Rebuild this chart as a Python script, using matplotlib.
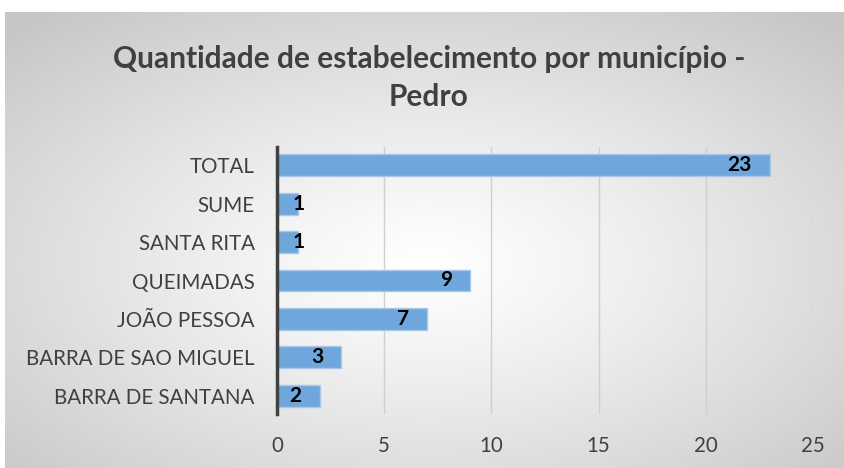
import numpy as np
import matplotlib
matplotlib.use("Agg")
import matplotlib.pyplot as plt

categories = ["BARRA DE SANTANA", "BARRA DE SAO MIGUEL", "JOÃO PESSOA",
              "QUEIMADAS", "SANTA RITA", "SUME", "TOTAL"]
values = [2, 3, 7, 9, 1, 1, 23]
xticks = [0, 5, 10, 15, 20, 25]
title = "Quantidade de estabelecimento por município -\nPedro"

plt.rcParams['font.family'] = ['Lato', 'DejaVu Sans']

fig = plt.figure(figsize=(8.45, 4.68), dpi=100)
fig.patch.set_facecolor("white")

# radial gradient background panel
bg = fig.add_axes([5/845, 0, 840/845, 1 - 12/468])
bg.set_axis_off()
ny, nx = 200, 360
yy, xx = np.mgrid[0:ny, 0:nx]
cx, cy = nx * 0.5, ny * 0.55
r = np.sqrt(((xx - cx) / (nx * 0.5)) ** 2 + ((yy - cy) / (ny * 0.5)) ** 2) / np.sqrt(2)
r = np.clip(r, 0, 1)
val = 1.0 - (1.0 - 0.78) * r ** 1.2
bg.imshow(np.dstack([val, val, val]), aspect='auto', extent=[0, 1, 0, 1], origin='upper')
bg.set_xlim(0, 1); bg.set_ylim(0, 1)

ax = fig.add_axes([277/845, 1 - 414/468, (813-277)/845, (414-147)/468])
ax.patch.set_alpha(0)
y = np.arange(len(categories))
ax.barh(y, values, height=0.57, color="#6fa6dc", edgecolor="#a8c8ea", linewidth=1, zorder=3)
ax.set_xlim(0, 25)
ax.set_ylim(-0.47, len(categories) - 1 + 0.47)
ax.set_xticks(xticks)
ax.set_yticks(y)
ax.set_yticklabels(categories)
ax.grid(axis='x', color="#cfcfcf", linewidth=1, zorder=0)
for s in ["top", "right", "bottom"]:
    ax.spines[s].set_visible(False)
ax.spines["left"].set_color("#404040")
ax.spines["left"].set_linewidth(2.5)
ax.spines["left"].set_zorder(4)
ax.tick_params(axis='both', length=0, labelsize=14.8, colors="#404040")
ax.tick_params(axis='x', pad=16)
ax.tick_params(axis='y', pad=16)

for yi, v in zip(y, values):
    if v >= 2:
        ax.annotate(str(v), (v, yi), xytext=(-13, 0), textcoords='offset points',
                    ha='right', va='center', fontsize=15, fontweight='bold',
                    color='black', zorder=5)
    else:
        ax.annotate(str(v), (v, yi), xytext=(0, 0), textcoords='offset points',
                    ha='center', va='center', fontsize=15, fontweight='bold',
                    color='black', zorder=5)

fig.text(429/845, 1 - 78/468, title, ha='center', va='center', fontsize=21.5,
         fontweight='bold', color="#404040", linespacing=1.45)

fig.savefig("out.png", dpi=100)
